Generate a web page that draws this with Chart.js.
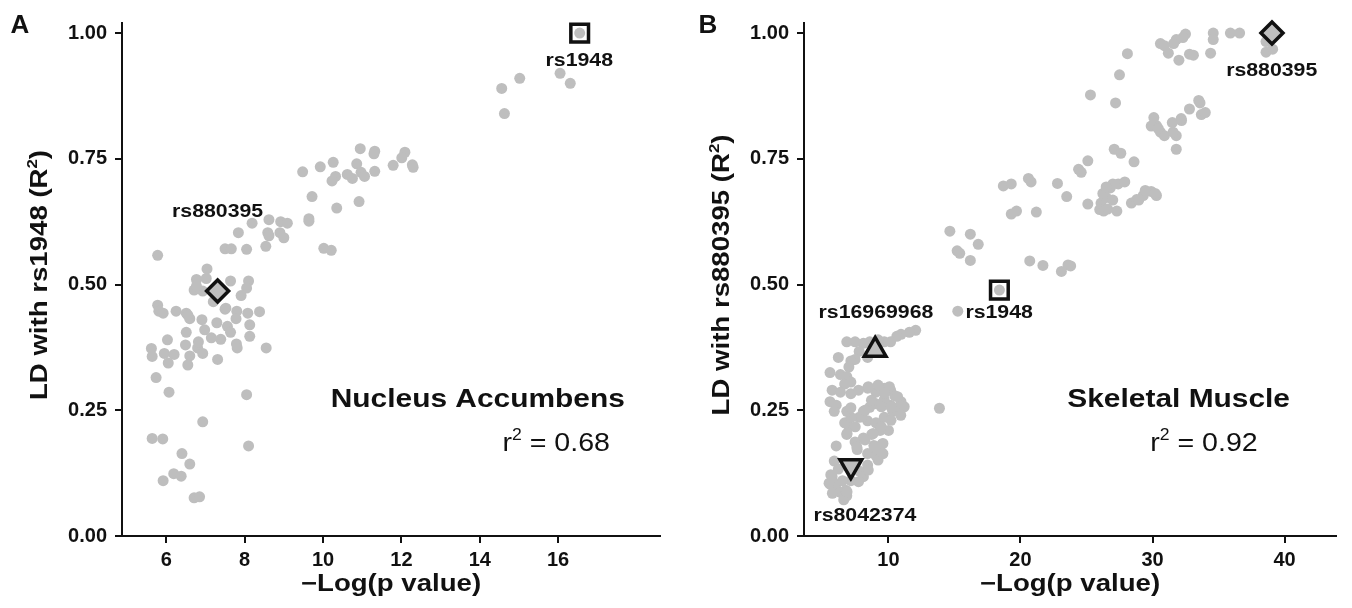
<!DOCTYPE html>
<html>
<head>
<meta charset="utf-8">
<title>LD vs -Log(p value)</title>
<script src="https://cdn.jsdelivr.net/npm/chart.js@4.4.1/dist/chart.umd.min.js"></script>
<style>
  body { margin: 0; background: #fff; }
  .panel { position: absolute; top: 0; width: 676px; height: 608px; }
</style>
</head>
<body>
<div class="panel" style="left:0"><canvas id="chartA" width="676" height="608"></canvas></div>
<div class="panel" style="left:676px"><canvas id="chartB" width="676" height="608"></canvas></div>
<script>
// ---- data: panel A (Nucleus Accumbens), LD with rs1948 ----
const accX = [16.55, 16.05, 16.31, 15.02, 14.56, 14.63, 10.95, 11.32, 11.30, 12.09,
  12.01, 11.79, 12.28, 12.30, 10.26, 9.93, 9.48, 10.86, 10.97, 11.06,
  11.32, 10.62, 10.75, 10.32, 10.23, 10.92, 10.35, 9.72, 9.64, 9.64,
  8.62, 8.19, 7.84, 8.59, 8.92, 9.09, 8.90, 9.00, 8.62, 8.54,
  7.50, 7.66, 8.05, 10.02, 10.21, 5.78, 7.04, 6.77, 7.02, 7.64,
  8.10, 8.05, 7.91, 6.71, 6.93, 7.20, 7.31, 7.50, 5.78, 5.81,
  5.92, 6.25, 6.51, 6.60, 6.91, 7.29, 7.56, 7.80, 8.08, 8.38,
  7.78, 8.13, 7.64, 8.13, 6.03, 6.51, 6.98, 7.15, 7.39, 7.79,
  7.81, 8.55, 5.62, 5.64, 5.95, 6.20, 6.05, 6.49, 6.60, 6.55,
  6.80, 6.93, 6.82, 7.31, 5.74, 6.07, 8.05, 6.93, 5.64, 5.91,
  8.10, 6.40, 6.60, 6.19, 6.38, 5.92, 6.71, 6.85, 6.77, 6.55, 7.52];
const accY = [1.00, 0.92, 0.90, 0.91, 0.89, 0.84, 0.77, 0.765, 0.76, 0.763,
  0.752, 0.737, 0.738, 0.733, 0.743, 0.734, 0.724, 0.74, 0.723, 0.715,
  0.725, 0.719, 0.711, 0.715, 0.706, 0.665, 0.652, 0.675, 0.631, 0.626,
  0.629, 0.622, 0.603, 0.603, 0.625, 0.622, 0.603, 0.593, 0.597, 0.576,
  0.571, 0.571, 0.57, 0.572, 0.568, 0.558, 0.531, 0.51, 0.512, 0.507,
  0.507, 0.493, 0.478, 0.489, 0.487, 0.466, 0.487, 0.451, 0.459, 0.447,
  0.443, 0.447, 0.443, 0.432, 0.43, 0.424, 0.417, 0.447, 0.443, 0.446,
  0.432, 0.42, 0.405, 0.397, 0.39, 0.405, 0.41, 0.394, 0.391, 0.382,
  0.374, 0.374, 0.373, 0.357, 0.363, 0.361, 0.344, 0.38, 0.358, 0.34,
  0.374, 0.363, 0.386, 0.351, 0.315, 0.286, 0.281, 0.227, 0.194, 0.193,
  0.179, 0.164, 0.143, 0.124, 0.119, 0.11, 0.076, 0.078, 0.497, 0.439, 0.453];
const accKeyNames = ["rs1948", "rs880395"];
const accKeyX = [16.55, 7.31];
const accKeyY = [1.00, 0.487];

// ---- data: panel B (Skeletal Muscle), LD with rs880395 ----
const musX = [39.05, 38.6, 38.6, 39.1, 36.6, 35.9, 34.6, 34.6, 34.4, 32.5,
  32.3, 31.8, 31.6, 30.6, 30.9, 31.2, 32.0, 32.8, 33.1, 28.1,
  27.5, 25.3, 27.2, 30.1, 30.3, 29.9, 30.6, 30.9, 31.5, 32.2,
  31.8, 32.8, 33.6, 33.7, 34.0, 31.8, 27.1, 27.6, 28.6, 24.4,
  25.1, 24.6, 18.7, 19.3, 20.6, 20.8, 22.8, 23.5, 19.3, 19.7,
  21.2, 25.1, 26.1, 26.5, 26.8, 27.4, 27.9, 26.0, 26.3, 26.6,
  27.3, 28.4, 28.8, 29.3, 29.9, 30.3, 27.0, 14.65, 16.2, 16.8,
  15.4, 15.2, 16.2, 20.7, 21.7, 23.1, 23.6, 23.8, 18.4, 15.25,
  8.99, 7.15, 12.06, 11.58, 10.95, 10.63, 10.16, 9.68, 9.21, 8.58,
  8.10, 7.47, 6.84, 7.78, 8.42, 7.47, 6.20, 7.15, 7.00, 5.57,
  6.36, 6.84, 6.68, 7.15, 5.73, 6.36, 7.15, 5.57, 6.04, 5.89,
  8.42, 9.05, 9.68, 10.16, 10.47, 10.95, 10.79, 10.16, 9.68, 9.05,
  8.58, 8.10, 7.78, 8.42, 9.05, 9.68, 10.32, 10.95, 9.37, 8.73,
  8.10, 7.47, 6.99, 6.68, 7.15, 6.84, 7.63, 8.42, 9.21, 9.53,
  10.0, 8.89, 13.86, 6.04, 5.89, 6.20, 5.73, 6.04, 6.36, 6.84,
  5.57, 5.63, 7.78, 8.42, 8.10, 7.15, 9.05, 9.53, 6.52, 6.77,
  6.84, 7.15, 5.50, 5.75, 6.61, 6.86, 7.73, 8.47, 9.21, 9.58,
  8.47, 9.21, 10.07, 10.69, 11.19, 10.93, 10.19, 9.46, 8.84, 8.22,
  7.60, 8.96, 9.58, 7.97, 7.48, 6.86, 8.71, 9.46, 10.19, 8.22,
  9.70, 7.73,
  26.24, 26.99, 26.49, 29.45, 30.2, 28.96, 33.5, 31.56, 30.44, 32.17];
const musY = [1.0, 0.983, 0.962, 0.968, 1.0, 1.0, 1.0, 0.987, 0.96, 0.998,
  0.991, 0.987, 0.979, 0.979, 0.975, 0.96, 0.946, 0.958, 0.956, 0.959,
  0.917, 0.877, 0.861, 0.832, 0.816, 0.815, 0.803, 0.796, 0.822, 0.826,
  0.796, 0.849, 0.861, 0.838, 0.842, 0.769, 0.769, 0.761, 0.744, 0.729,
  0.746, 0.723, 0.696, 0.70, 0.711, 0.704, 0.701, 0.675, 0.64, 0.646,
  0.644, 0.66, 0.662, 0.673, 0.692, 0.70, 0.704, 0.649, 0.646, 0.65,
  0.646, 0.662, 0.669, 0.677, 0.685, 0.677, 0.70, 0.606, 0.60, 0.58,
  0.562, 0.567, 0.548, 0.547, 0.538, 0.526, 0.539, 0.537, 0.489, 0.447,
  0.37, 0.139, 0.409, 0.405, 0.401, 0.397, 0.386, 0.386, 0.39, 0.386,
  0.383, 0.386, 0.386, 0.367, 0.355, 0.351, 0.355, 0.348, 0.336, 0.325,
  0.321, 0.317, 0.302, 0.306, 0.29, 0.286, 0.283, 0.267, 0.26, 0.248,
  0.294, 0.286, 0.294, 0.29, 0.279, 0.267, 0.256, 0.26, 0.271, 0.263,
  0.256, 0.248, 0.236, 0.229, 0.225, 0.236, 0.248, 0.252, 0.21, 0.202,
  0.195, 0.187, 0.218, 0.225, 0.236, 0.202, 0.172, 0.164, 0.168, 0.183,
  0.21, 0.18, 0.254, 0.179, 0.149, 0.133, 0.118, 0.103, 0.087, 0.08,
  0.103, 0.122, 0.129, 0.141, 0.118, 0.11, 0.16, 0.164, 0.11, 0.091,
  0.248, 0.255, 0.105, 0.085, 0.072, 0.088, 0.108, 0.131, 0.151, 0.164,
  0.297, 0.30, 0.297, 0.277, 0.257, 0.24, 0.23, 0.217, 0.204, 0.191,
  0.177, 0.177, 0.184, 0.237, 0.217, 0.204, 0.27, 0.257, 0.257, 0.25,
  0.284, 0.29,
  0.681, 0.668, 0.694, 0.687, 0.681, 0.668, 0.866, 0.803, 0.81, 0.83];
const musKeyNames = ["rs880395", "rs1948", "rs16969968", "rs8042374"];
const musKeyX = [39.05, 18.4, 8.99, 7.15];
const musKeyY = [1.00, 0.489, 0.37, 0.139];

// ---- tick labels ----
const accXTicks = [6, 8, 10, 12, 14, 16];
const musXTicks = [10, 20, 30, 40];
const yTicks = [0, 0.25, 0.5, 0.75, 1.0];

const FAMILY = "'Liberation Sans', Arial, Helvetica, sans-serif";
const INK = "#111111";
const GRAY = "#bebebe";

Chart.defaults.font.family = FAMILY;
Chart.defaults.color = INK;

// marker look for each highlighted SNP
const keyMarker = {
  rect:     { pointStyle: "rect",     pointRadius: 12.5, pointBackgroundColor: "rgba(0,0,0,0)" },
  diamond:  { pointStyle: "rectRot",  pointRadius: 11,   pointBackgroundColor: GRAY },
  up:       { pointStyle: "triangle", pointRadius: 12.5, pointBackgroundColor: GRAY, rotation: 0 },
  down:     { pointStyle: "triangle", pointRadius: 12.5, pointBackgroundColor: GRAY, rotation: 180 }
};

function toPoints(xs, ys) {
  return xs.map((x, i) => ({ x: x, y: ys[i] }));
}

function keyDatasets(names, xs, ys, shapes) {
  return names.map((name, i) => Object.assign({
    label: name,
    data: [{ x: xs[i], y: ys[i] }],
    pointBorderColor: INK,
    pointBorderWidth: 3.5,
    clip: false
  }, keyMarker[shapes[i]]));
}

// split "r^2 = 0.68" into pieces, the char after ^ is a superscript
function parseSup(text) {
  const segs = [];
  let buf = "";
  for (let i = 0; i < text.length; i++) {
    if (text[i] === "^") {
      if (buf) segs.push({ t: buf });
      segs.push({ t: text[i + 1], sup: true });
      buf = "";
      i++;
    } else {
      buf += text[i];
    }
  }
  if (buf) segs.push({ t: buf });
  return segs;
}

function drawRich(ctx, text, cx, cy, o) {
  const size = o.size, weight = o.weight || "bold", sx = o.sx || 1;
  const segs = parseSup(text);
  const fontFor = s => `${weight} ${s.sup ? Math.round(size * 0.62) : size}px ${FAMILY}`;
  ctx.save();
  ctx.translate(cx, cy);
  if (o.rot) ctx.rotate(o.rot);
  ctx.scale(sx, 1);
  let total = 0;
  segs.forEach(s => { ctx.font = fontFor(s); s.w = ctx.measureText(s.t).width; total += s.w; });
  let pos = o.align === "left" ? 0 : -total / 2;
  ctx.textAlign = "left";
  ctx.textBaseline = "alphabetic";
  ctx.fillStyle = INK;
  const base = size * 0.716 / 2;
  segs.forEach(s => {
    ctx.font = fontFor(s);
    ctx.fillText(s.t, pos, base - (s.sup ? size * 0.45 : 0));
    pos += s.w;
  });
  ctx.restore();
}

// panel letter, axis titles and annotations
const figText = {
  id: "figText",
  afterDraw(chart, args, opts) {
    const ctx = chart.ctx;
    const xs = chart.scales.x, ys = chart.scales.y;
    const area = chart.chartArea;
    drawRich(ctx, opts.letter, opts.letterX, 24, { size: 26 });
    drawRich(ctx, opts.yTitle, area.left - 83, 275, { size: 23, sx: 1.2, rot: -Math.PI / 2 });
    drawRich(ctx, "\u2212Log(p value)", (area.left + area.right) / 2, 583, { size: 23, sx: 1.2 });
    opts.notes.forEach(n => {
      drawRich(ctx, n.text, xs.getPixelForValue(n.x), ys.getPixelForValue(n.y), n);
    });
  }
};

function makeChart(id, cfg) {
  return new Chart(document.getElementById(id), {
    type: "scatter",
    data: {
      datasets: cfg.keys.concat([{
        label: "SNPs",
        data: cfg.points,
        pointRadius: 5.5,
        pointBorderWidth: 0,
        pointBackgroundColor: GRAY,
        pointBorderColor: GRAY,
        clip: false
      }])
    },
    options: {
      responsive: false,
      animation: false,
      devicePixelRatio: 1,
      layout: { padding: { top: 23, right: cfg.padRight, bottom: 0, left: 0 } },
      plugins: {
        legend: { display: false },
        tooltip: { enabled: false },
        figText: cfg.text
      },
      scales: {
        x: {
          type: "linear",
          min: cfg.xMin,
          max: cfg.xMax,
          afterBuildTicks: s => { s.ticks = cfg.xTicks.map(v => ({ value: v })); },
          afterFit: s => { s.height = 72; },
          grid: { display: true, drawOnChartArea: false, drawTicks: true, tickLength: 7, color: INK, lineWidth: 2 },
          border: { display: true, color: INK, width: 2 },
          ticks: { color: INK, padding: 5, maxRotation: 0, font: { size: 20, weight: "bold" }, callback: v => String(v) }
        },
        y: {
          type: "linear",
          min: 0,
          max: 1.02,
          afterBuildTicks: s => { s.ticks = yTicks.map(v => ({ value: v })); },
          afterFit: s => { s.width = cfg.yWidth; },
          grid: { display: true, drawOnChartArea: false, drawTicks: true, tickLength: 7, color: INK, lineWidth: 2 },
          border: { display: true, color: INK, width: 2 },
          ticks: { color: INK, padding: 8, font: { size: 20, weight: "bold" }, callback: v => v.toFixed(2) }
        }
      }
    },
    plugins: [figText]
  });
}

makeChart("chartA", {
  points: toPoints(accX, accY),
  keys: keyDatasets(accKeyNames, accKeyX, accKeyY, ["rect", "diamond"]),
  xMin: 4.87, xMax: 18.6, xTicks: accXTicks,
  yWidth: 122, padRight: 11,
  text: {
    letter: "A", letterX: 20,
    yTitle: "LD with rs1948 (R^2)",
    notes: [
      { text: "rs1948", x: 16.54, y: 0.949, size: 19, sx: 1.12 },
      { text: "rs880395", x: 7.31, y: 0.648, size: 19, sx: 1.12 },
      { text: "Nucleus Accumbens", x: 13.95, y: 0.275, size: 26, sx: 1.15 },
      { text: "r^2 = 0.68", x: 15.95, y: 0.187, size: 26, weight: "normal", sx: 1.1 }
    ]
  }
});

makeChart("chartB", {
  points: toPoints(musX, musY),
  keys: keyDatasets(musKeyNames, musKeyX, musKeyY, ["diamond", "rect", "up", "down"]),
  xMin: 3.6, xMax: 43.9, xTicks: musXTicks,
  yWidth: 128, padRight: 4,
  text: {
    letter: "B", letterX: 32,
    yTitle: "LD with rs880395 (R^2)",
    notes: [
      { text: "rs880395", x: 39.03, y: 0.928, size: 19, sx: 1.12 },
      { text: "rs1948", x: 18.38, y: 0.447, size: 19, sx: 1.12 },
      { text: "rs16969968", x: 9.05, y: 0.447, size: 19, sx: 1.12 },
      { text: "rs8042374", x: 8.21, y: 0.043, size: 19, sx: 1.12 },
      { text: "Skeletal Muscle", x: 31.98, y: 0.275, size: 26, sx: 1.15 },
      { text: "r^2 = 0.92", x: 33.9, y: 0.187, size: 26, weight: "normal", sx: 1.1 }
    ]
  }
});
</script>
</body>
</html>
